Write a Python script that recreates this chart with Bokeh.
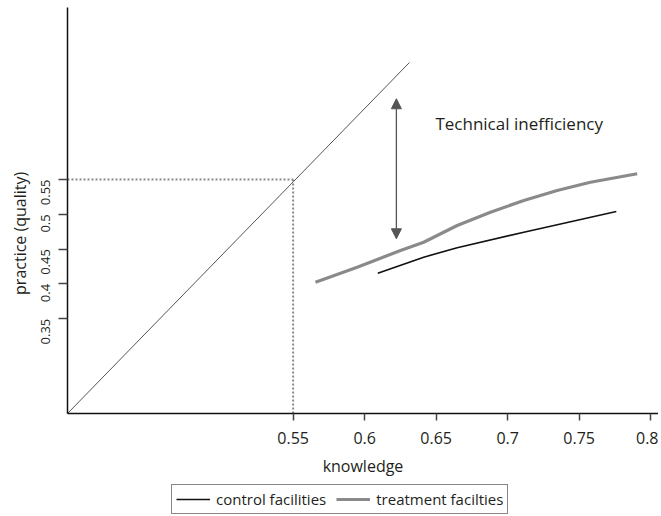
import math
from bokeh.plotting import figure
from bokeh.layouts import column
from bokeh.models import (Range1d, FixedTicker, Legend, LegendItem, Label, Arrow,
                          NormalHead)
from bokeh.embed import file_html
from bokeh.resources import INLINE

# ---- data ----
treat_knowledge = [0.5656, 0.5948, 0.6251, 0.6413, 0.6647, 0.688, 0.7113, 0.7346, 0.7579, 0.7906]
treat_practice = [0.4024, 0.424, 0.448, 0.4599, 0.4839, 0.503, 0.5198, 0.5342, 0.5461, 0.5582]

control_knowledge = [0.6092, 0.6413, 0.6647, 0.7113, 0.776]
control_practice = [0.4154, 0.4384, 0.4519, 0.4743, 0.504]

frontier_knowledge = [0.3922, 0.6313]
frontier_practice = [0.2138, 0.718]

ref_value = 0.55
gap_knowledge = 0.6222
gap_top = 0.666
gap_bottom = 0.4648

x_ticks = [0.55, 0.6, 0.65, 0.7, 0.75, 0.8]
x_tick_labels = ["0.55", "0.6", "0.65", "0.7", "0.75", "0.8"]
y_ticks = [0.35, 0.4, 0.45, 0.5, 0.55]
y_tick_labels = ["0.35", "0.4", "0.45", "0.5", "0.55"]

X_START, X_END = 0.3922, 0.8055
Y_START, Y_END = 0.2138, 0.7971

FONT = "Open Sans"
TXT = "#231f20"
CONTROL_COLOR = "#111111"
TREAT_COLOR = "#8a8a8a"

p = figure(frame_width=591, frame_height=406, output_backend="svg",
           toolbar_location=None, min_border_left=67, min_border_right=0,
           min_border_top=7, min_border_bottom=70,
           x_range=Range1d(X_START, X_END), y_range=Range1d(Y_START, Y_END))
p.outline_line_color = None
p.xgrid.visible = False
p.ygrid.visible = False

# axes
p.xaxis.ticker = FixedTicker(ticks=x_ticks)
p.xaxis.major_label_overrides = {t: l for t, l in zip(x_ticks, x_tick_labels)}
p.yaxis.ticker = FixedTicker(ticks=y_ticks)
p.yaxis.major_label_overrides = {t: l for t, l in zip(y_ticks, y_tick_labels)}
for ax in (p.xaxis, p.yaxis):
    ax.minor_tick_line_color = None
    ax.axis_line_color = "#111111"
    ax.axis_line_width = 1.5
    ax.major_tick_line_color = "#444444"
    ax.major_tick_line_width = 1.5
    ax.major_tick_in = 0
    ax.major_label_text_font = FONT
    ax.major_label_text_color = TXT
    ax.axis_label_text_font = FONT
    ax.axis_label_text_font_size = "16px"
    ax.axis_label_text_font_style = "normal"
    ax.axis_label_text_color = TXT
p.xaxis.major_label_text_font_size = "16px"
p.yaxis.major_label_text_font_size = "13px"
p.xaxis.major_tick_out = 7
p.yaxis.major_tick_out = 9
p.xaxis.major_label_standoff = 11
p.yaxis.major_label_standoff = 13
p.yaxis.major_label_orientation = math.pi / 2
p.xaxis.axis_label = "knowledge"
p.xaxis.axis_label_standoff = 8
# trailing no-break spaces shift the centred title toward the tick range, as in the reference
p.yaxis.axis_label = "practice (quality)" + "\u00a0" * 11
p.yaxis.axis_label_standoff = 3

# frontier and reference lines
p.line(frontier_knowledge, frontier_practice, line_color="#555555", line_width=1)
p.line([ref_value, ref_value], [Y_START, ref_value], line_color="#8a8a8a",
       line_width=2, line_dash="2 2")
p.line([X_START, ref_value], [ref_value, ref_value], line_color="#8a8a8a",
       line_width=2, line_dash="2 2")

p.line(control_knowledge, control_practice, line_color=CONTROL_COLOR, line_width=1.6)
p.line(treat_knowledge, treat_practice, line_color=TREAT_COLOR, line_width=3.2)

# arrow + annotation
p.add_layout(Arrow(x_start=gap_knowledge, y_start=gap_bottom, x_end=gap_knowledge, y_end=gap_top,
                   line_color="#555555", line_width=1.3,
                   start=NormalHead(size=10, fill_color="#555555", line_color="#555555"),
                   end=NormalHead(size=10, fill_color="#555555", line_color="#555555")))
p.add_layout(Label(x=0.6495, y=0.63, text="Technical inefficiency",
                   text_align="left", text_baseline="middle",
                   text_font=FONT, text_font_size="17px", text_color=TXT))

# ---- legend strip below the chart (its ranges keep the sample lines out of view) ----
lg = figure(width=658, height=32, output_backend="svg", toolbar_location=None,
            min_border_left=0, min_border_right=0, min_border_top=0, min_border_bottom=0,
            x_axis_location=None, y_axis_location=None,
            x_range=Range1d(10, 11), y_range=Range1d(10, 11))
lg.outline_line_color = None
lg.xgrid.visible = False
lg.ygrid.visible = False
lc = lg.line(control_knowledge, control_practice, line_color=CONTROL_COLOR, line_width=1.6)
lt = lg.line(treat_knowledge, treat_practice, line_color=TREAT_COLOR, line_width=3.2)
legend = Legend(items=[LegendItem(label="control facilities", renderers=[lc]),
                       LegendItem(label="treatment facilties", renderers=[lt])],
                orientation="horizontal", location=(104, 1))
legend.label_text_font = FONT
legend.label_text_font_size = "15px"
legend.label_text_color = TXT
legend.glyph_width = 34
legend.glyph_height = 16
legend.label_standoff = 6
legend.spacing = 10
legend.padding = 4
legend.margin = 0
legend.border_line_color = "#111111"
legend.border_line_width = 1.5
legend.background_fill_alpha = 1
lg.add_layout(legend, "center")

layout = column(p, lg, spacing=0)
open("out.html", "w").write(file_html(layout, INLINE))
